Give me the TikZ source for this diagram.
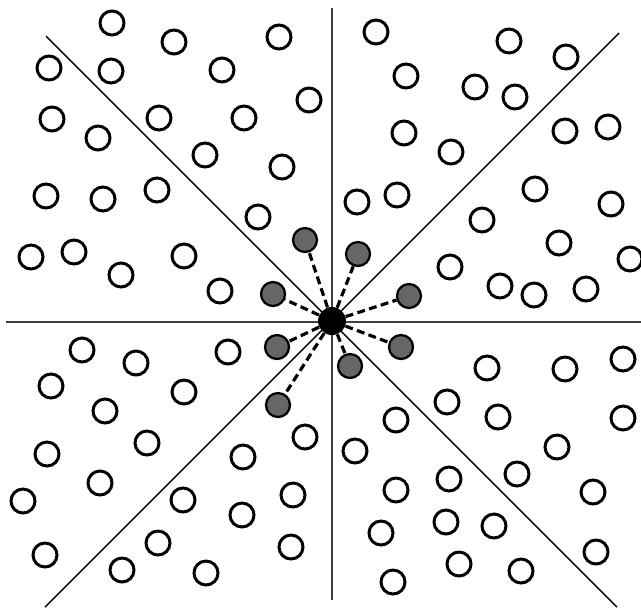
\documentclass[tikz,border=0pt]{standalone}
\usepackage{tikz}
\usetikzlibrary{positioning}

\begin{document}
\begin{tikzpicture}[
        x=0.02cm, y=-0.02cm,
        pt/.style={draw=black, circle, line width=1.7pt, inner sep=0pt, minimum size=0.48cm, fill=white},
        nb/.style={pt, line width=1.3pt, fill=black!60},
        ctr/.style={circle, fill=black, inner sep=0pt, minimum size=0.56cm},
        axis/.style={line width=1.1pt, black!75},
        diag/.style={line width=0.8pt, black},
        link/.style={line width=1.8pt, dash pattern=on 4.5pt off 2.5pt}
    ]
        \useasboundingbox (0,0) rectangle (641,610);

        % sector borders
        \coordinate (top) at (332,8);
        \coordinate (bot) at (332,600);
        \coordinate (lft) at (6,322);
        \coordinate (rgt) at (641,322);
        \coordinate (nw) at (46,36);
        \coordinate (se) at (617,607);
        \coordinate (ne) at (619,33);
        \coordinate (sw) at (45,607);
        \draw[axis] (top) -- (bot);
        \draw[axis] (lft) -- (rgt);
        \draw[diag] (nw) -- (se);
        \draw[diag] (ne) -- (sw);

        % other points
        \foreach \x/\y [count=\i] in {
            112/23, 174/42, 279/37, 49/68, 111/71, 222/70, 309/100, 52/119,
            159/118, 244/118, 98/138, 205/155, 282/167, 46/196, 103/199, 157/190,
            258/217, 31/257, 74/252, 121/275, 184/256, 220/291,
            376/32, 509/41, 566/57, 406/76, 475/87, 515/97, 404/133, 451/152,
            565/131, 608/127, 357/202, 397/195, 535/189, 611/204, 482/220, 559/243,
            630/259, 450/267, 500/286, 534/295, 586/289,
            82/350, 136/363, 228/352, 51/386, 105/411, 184/392, 305/437, 47/454,
            147/443, 243/457, 100/483, 23/501, 183/500, 293/495, 242/515, 45/555,
            158/543, 122/570, 206/573, 291/547,
            487/368, 565/369, 623/359, 447/402, 498/417, 623/418, 396/420, 355/451,
            557/447, 517/474, 449/479, 396/490, 593/492, 381/533, 446/522, 494/526,
            596/552, 459/564, 521/571, 393/582}
            \node[pt] (p\i) at (\x,\y) {};

        % query point and its neighbours
        \node[ctr] (c) at (332,321) {};
        \foreach \x/\y [count=\i] in {
            305/240, 358/254, 273/294, 409/296, 277/347, 401/347, 350/366, 278/405}
        {
            \node[nb] (n\i) at (\x,\y) {};
            \draw[link] (c) -- (n\i);
        }
    \end{tikzpicture}
\end{document}
